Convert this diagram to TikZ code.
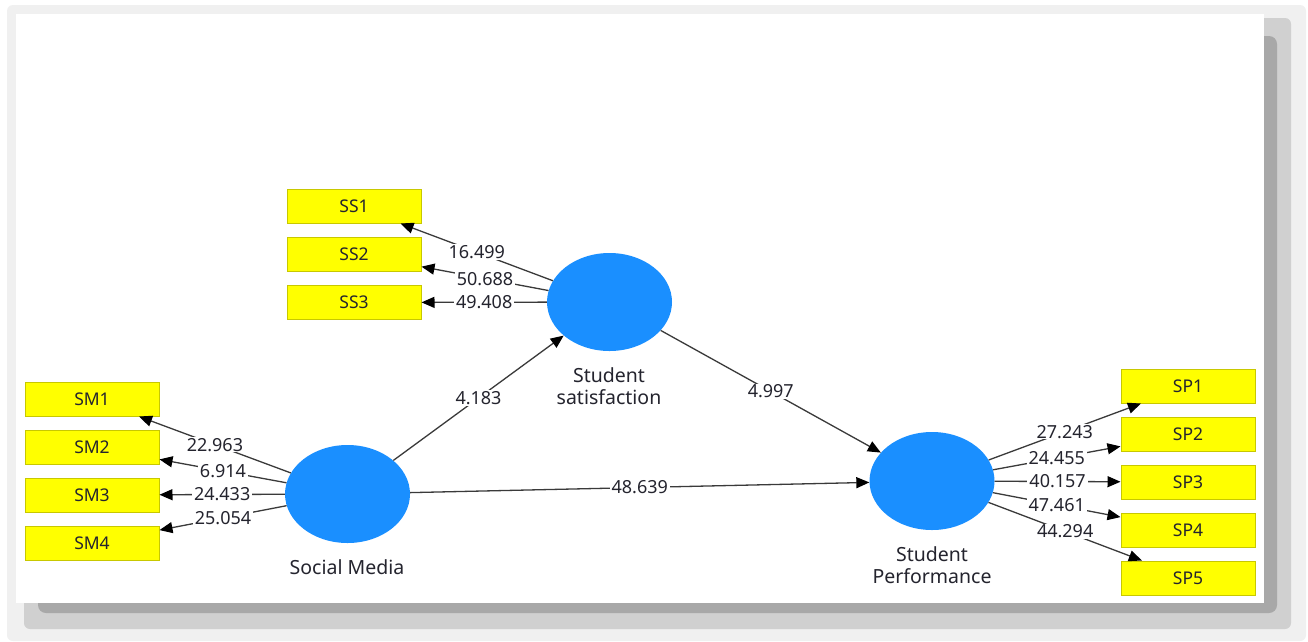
\documentclass[tikz,border=0pt]{standalone}
\usepackage{fontspec}
\setmainfont{Noto Sans}
\usetikzlibrary{shapes.geometric,arrows.meta}
\definecolor{lvblue}{HTML}{1A8FFF}
\definecolor{boxyel}{HTML}{FFFF00}
\definecolor{boxedge}{HTML}{C8C800}
\definecolor{linegray}{HTML}{3A3A3A}
\definecolor{txt}{HTML}{24242E}
\definecolor{shA}{HTML}{F0F0F0}
\definecolor{shB}{HTML}{D0D0D0}
\definecolor{shC}{HTML}{A8A8A8}
\begin{document}
\begin{tikzpicture}[x=1pt,y=-1pt,
 latent/.style={ellipse,fill=lvblue,minimum width=125pt,minimum height=98pt,inner sep=0pt},
 indic/.style={rectangle,fill=boxyel,draw=boxedge,line width=1pt,minimum width=134pt,minimum height=34pt,inner sep=0pt,text=txt,font=\fontsize{17.5}{20}\selectfont},
 vname/.style={align=center,text=txt,font=\fontsize{19.5}{22}\selectfont},
 ld/.style={draw=linegray,line width=1.3pt,-{Triangle[length=13pt,width=11pt,color=black]}},
 lbl/.style={fill=white,inner xsep=2pt,inner ysep=1pt,text=txt,font=\fontsize{18}{20}\selectfont}]
\useasboundingbox (0,0) rectangle (1308,641);
% frame and shadow
\fill[white] (0,0) rectangle (1308,641);
\fill[shA,rounded corners=6pt] (7,5) rectangle (1306,641);
\fill[shB,rounded corners=6pt] (24,18) rectangle (1291,629);
\fill[shC,rounded corners=8pt] (38,36) rectangle (1277,613);
\fill[white] (16,14) rectangle (1264,603);
% latent variables
\node[latent] (ss) at (609.5,302) {};
\node[latent] (sm) at (347.5,494) {};
\node[latent] (sp) at (932,481) {};
\node[vname] (lss) at (609,386) {Student\\satisfaction};
\node[vname] (lsm) at (347,567) {Social Media};
\node[vname] (lsp) at (932,565) {Student\\Performance};
% indicators
\node[indic] (SS1) at (354,206) {SS1};
\node[indic] (SS2) at (354,254) {SS2};
\node[indic] (SS3) at (354,302.5) {SS3};
\node[indic] (SM1) at (92,399) {SM1};
\node[indic] (SM2) at (92,447) {SM2};
\node[indic] (SM3) at (92,495) {SM3};
\node[indic] (SM4) at (92,543) {SM4};
\node[indic] (SP1) at (1188,386) {SP1};
\node[indic] (SP2) at (1188,434) {SP2};
\node[indic] (SP3) at (1188,482) {SP3};
\node[indic] (SP4) at (1188,530) {SP4};
\node[indic] (SP5) at (1188,578) {SP5};
% loadings
\draw[ld] (ss) -- node[lbl]{16.499} (SS1);
\draw[ld] (ss) -- node[lbl]{50.688} (SS2);
\draw[ld] (ss) -- node[lbl]{49.408} (SS3);
\draw[ld] (sm) -- node[lbl]{22.963} (SM1);
\draw[ld] (sm) -- node[lbl]{6.914} (SM2);
\draw[ld] (sm) -- node[lbl]{24.433} (SM3);
\draw[ld] (sm) -- node[lbl]{25.054} (SM4);
\draw[ld] (sp) -- node[lbl]{27.243} (SP1);
\draw[ld] (sp) -- node[lbl]{24.455} (SP2);
\draw[ld] (sp) -- node[lbl]{40.157} (SP3);
\draw[ld] (sp) -- node[lbl]{47.461} (SP4);
\draw[ld] (sp) -- node[lbl]{44.294} (SP5);
% paths
\draw[ld] (sm) -- node[lbl]{4.183} (ss);
\draw[ld] (ss) -- node[lbl]{4.997} (sp);
\draw[ld] (sm) -- node[lbl]{48.639} (sp);
\end{tikzpicture}
\end{document}
